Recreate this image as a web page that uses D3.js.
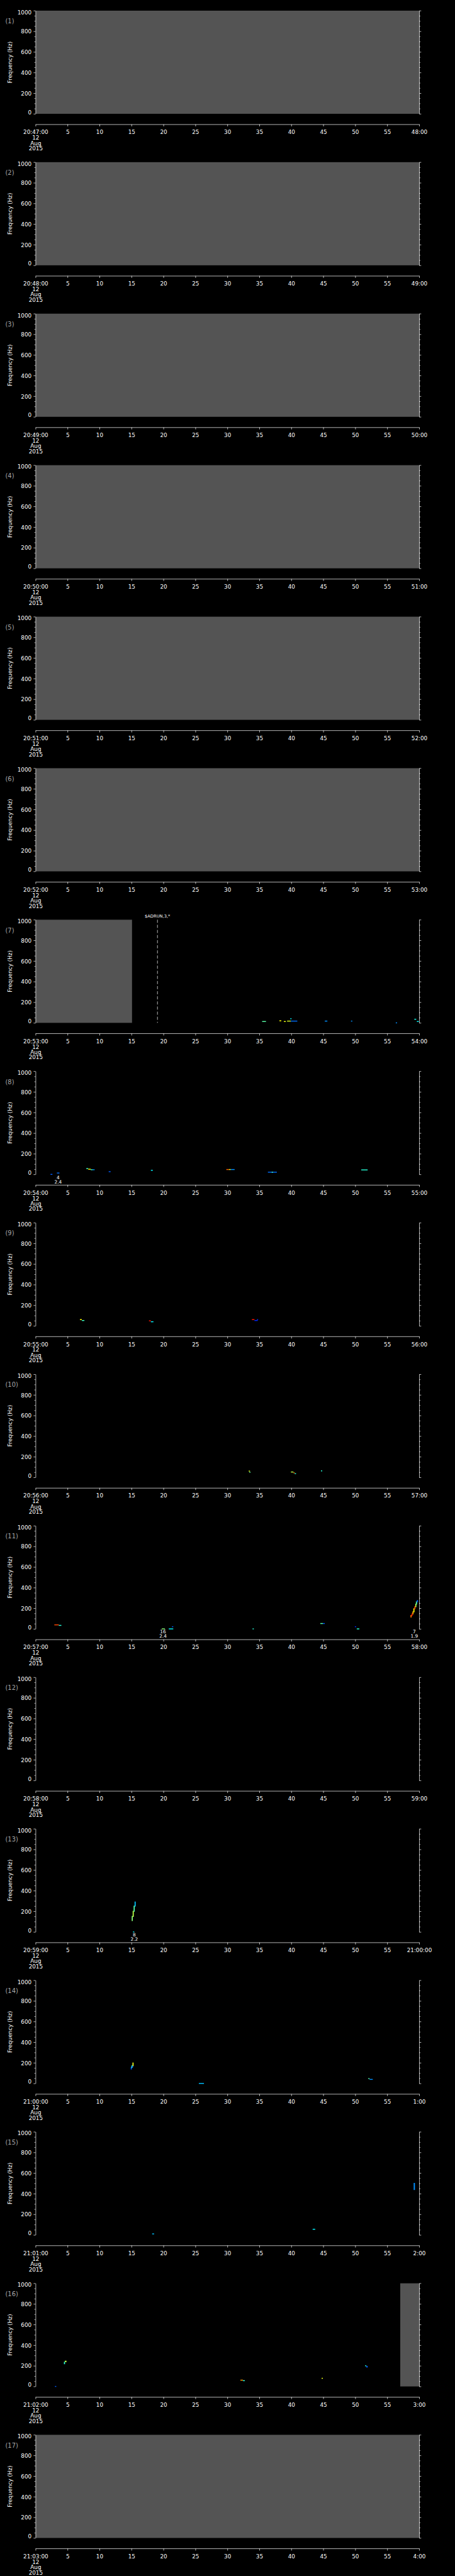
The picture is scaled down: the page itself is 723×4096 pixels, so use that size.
<!DOCTYPE html>
<html>
<head>
<meta charset="utf-8">
<script src="https://cdn.jsdelivr.net/npm/d3@7"></script>
<style>
  html, body { margin: 0; padding: 0; background: #000; }
  svg { display: block; }
  text { font-family: "DejaVu Sans", sans-serif; }
</style>
</head>
<body>
<svg id="chart" width="723" height="4096" viewBox="0 0 1024 5802"></svg>
<script>
// one spectrogram panel per minute, 12 Aug 2015
const startLabels = ['20:47:00', '20:48:00', '20:49:00', '20:50:00', '20:51:00', '20:52:00',
    '20:53:00', '20:54:00', '20:55:00', '20:56:00', '20:57:00', '20:58:00', '20:59:00',
    '21:00:00', '21:01:00', '21:02:00', '21:03:00'];
const endLabels = ['48:00', '49:00', '50:00', '51:00', '52:00', '53:00', '54:00', '55:00',
    '56:00', '57:00', '58:00', '59:00', '21:00:00', '1:00', '2:00', '3:00', '4:00'];
const dateLines = ['12', 'Aug', '2015'];

const secTicks = [0, 5, 10, 15, 20, 25, 30, 35, 40, 45, 50, 55, 60];
const freqTicks = [0, 200, 400, 600, 800, 1000];
const freqMinor = [50, 100, 150, 250, 300, 350, 450, 500, 550, 650, 700, 750, 850, 900, 950];

// no-data stretches: [panel, t0 (s), t1 (s)]
const gaps = [
    [1, 0, 60], [2, 0, 60], [3, 0, 60], [4, 0, 60], [5, 0, 60], [6, 0, 60],
    [7, 0, 15.05], [16, 57, 60], [17, 0, 60]
];

// detected power cells: [panel, t0, t1, f0 (Hz), f1 (Hz), level 0..1]
const segs = [
    [7, 35.4, 36.0, 13, 13, 0.45], [7, 38.1, 38.4, 20, 20, 0.62], [7, 38.8, 39.1, 13, 13, 0.6],
    [7, 39.3, 39.9, 17, 17, 0.58], [7, 39.9, 40.9, 17, 17, 0.22], [7, 39.8, 40.0, 40, 40, 0.35],
    [7, 45.2, 45.6, 17, 17, 0.25], [7, 49.3, 49.5, 17, 17, 0.25], [7, 56.3, 56.5, 0, 0, 0.25],
    [7, 59.2, 59.5, 35, 35, 0.38], [7, 59.6, 59.9, 13, 13, 0.36],

    [8, 2.3, 2.6, 0, 0, 0.2], [8, 3.3, 3.7, 13, 13, 0.22], [8, 7.9, 8.2, 56, 56, 0.42],
    [8, 8.2, 8.6, 50, 50, 0.62], [8, 8.6, 8.9, 45, 45, 0.42], [8, 8.9, 9.2, 45, 45, 0.25],
    [8, 11.4, 11.7, 26, 26, 0.2], [8, 18.0, 18.3, 39, 39, 0.35], [8, 29.8, 30.2, 47, 47, 0.78],
    [8, 30.2, 30.5, 47, 47, 0.6], [8, 30.5, 31.1, 47, 47, 0.25], [8, 36.3, 37.7, 21, 21, 0.22],
    [8, 36.9, 37.1, 21, 21, 0.42], [8, 50.9, 51.9, 43, 43, 0.4],

    [9, 6.9, 7.2, 61, 61, 0.62], [9, 7.2, 7.6, 52, 52, 0.42], [9, 17.7, 18.0, 49, 49, 0.85],
    [9, 18.0, 18.4, 40, 40, 0.35], [9, 33.8, 34.2, 61, 61, 0.85], [9, 34.2, 34.7, 52, 52, 0.15],
    [9, 34.6, 34.7, 61, 61, 0.15],

    [10, 33.3, 33.5, 61, 61, 0.6], [10, 33.4, 33.5, 49, 49, 0.45], [10, 39.9, 40.3, 52, 52, 0.55],
    [10, 40.3, 40.5, 44, 44, 0.75], [10, 40.5, 40.7, 36, 36, 0.4], [10, 44.6, 44.8, 63, 63, 0.4],

    [11, 2.9, 3.6, 39, 39, 0.8], [11, 3.6, 4.0, 34, 34, 0.4], [11, 19.7, 20.2, 0, 0, 0.5],
    [11, 20.8, 21.5, 0, 0, 0.36], [11, 21.3, 21.5, 21, 21, 0.2], [11, 33.9, 34.1, 0, 0, 0.4],
    [11, 44.5, 44.9, 52, 52, 0.45], [11, 44.9, 45.2, 52, 52, 0.2], [11, 49.9, 50.1, 21, 21, 0.15],
    [11, 50.2, 50.6, 0, 0, 0.4],
    [11, 58.6, 58.75, 115, 130, 0.75], [11, 58.75, 58.9, 130, 145, 0.85],
    [11, 58.9, 59.05, 145, 165, 0.7], [11, 59.05, 59.2, 165, 195, 0.62],
    [11, 59.2, 59.35, 195, 215, 0.8], [11, 59.35, 59.45, 215, 240, 0.55],
    [11, 59.45, 59.6, 240, 262, 0.45], [11, 59.6, 59.7, 262, 275, 0.2],

    [13, 15.0, 15.15, 110, 150, 0.5], [13, 15.15, 15.3, 150, 200, 0.55],
    [13, 15.3, 15.45, 200, 250, 0.45], [13, 15.45, 15.6, 250, 290, 0.3],
    [13, 15.2, 15.4, 0, 0, 0.35],

    [14, 14.85, 14.95, 140, 155, 0.2], [14, 14.95, 15.05, 155, 170, 0.4],
    [14, 15.05, 15.12, 160, 175, 0.2], [14, 15.12, 15.22, 172, 198, 0.6],
    [14, 25.5, 26.3, 0, 0, 0.3], [14, 52.0, 52.2, 47, 47, 0.45], [14, 52.2, 52.7, 39, 39, 0.25],

    [15, 18.2, 18.5, 10, 10, 0.3], [15, 43.3, 43.7, 55, 55, 0.35], [15, 59.1, 59.3, 440, 500, 0.25],

    [16, 3.0, 3.2, 0, 0, 0.2], [16, 4.4, 4.55, 220, 235, 0.4], [16, 4.55, 4.8, 240, 245, 0.55],
    [16, 32.0, 32.4, 61, 61, 0.72], [16, 32.4, 32.7, 56, 56, 0.4], [16, 44.7, 44.9, 79, 79, 0.6],
    [16, 51.5, 51.7, 200, 200, 0.4], [16, 51.7, 51.9, 188, 195, 0.2]
];

// event numbers below the panels: [panel, t, line1, line2]
const notes = [[8, 3.5, '4', '2.4'], [11, 19.9, '16', '2.4'], [11, 59.2, '7', '1.9'], [13, 15.4, '8', '2.2']];
// vertical markers: [panel, t, label]
const markers = [[7, 19.03, '$ADRUN,3,*']];

const TOP0 = 24;
const PITCH = 341.25;
const PH = 232.3;

const svg = d3.select('#chart');
svg.append('rect').attr('width', 1024).attr('height', 5802).attr('fill', '#000');

const x = d3.scaleLinear().domain([0, 60]).range([80.5, 944]);
const y = d3.scaleLinear().domain([0, 1000]).range([PH, 0]);
const jet = d3.scaleLinear()
    .domain([0, 0.11, 0.36, 0.62, 0.87, 1])
    .range(['#00008f', '#0000ff', '#00ffff', '#ffff00', '#ff0000', '#800000'])
    .clamp(true);

const styleAxis = (sel) => {
    sel.attr('font-family', null).attr('font-size', null);
    sel.selectAll('path, line').attr('stroke', '#fff').attr('stroke-width', 1);
    sel.selectAll('text').attr('fill', '#fff').style('font-size', '12.5px');
};

startLabels.forEach((lab, i) => {
    const p = i + 1;
    const g = svg.append('g').attr('transform', `translate(0,${TOP0 + PITCH * i})`);

    g.selectAll('rect.gap').data(gaps.filter(d => d[0] === p)).join('rect')
        .attr('class', 'gap')
        .attr('x', d => x(d[1]))
        .attr('width', d => x(d[2]) - x(d[1]))
        .attr('y', y(1000))
        .attr('height', y(0) - y(1000))
        .attr('fill', '#545454');

    g.selectAll('rect.seg').data(segs.filter(d => d[0] === p)).join('rect')
        .attr('class', 'seg')
        .attr('x', d => x(d[1]))
        .attr('width', d => Math.max(x(d[2]) - x(d[1]), 2.5))
        .attr('y', d => y(Math.max(d[3], d[4])) - 1)
        .attr('height', d => Math.abs(y(d[3]) - y(d[4])) + 2)
        .attr('fill', d => jet(d[5]));

    markers.filter(d => d[0] === p).forEach(m => {
        g.append('line')
            .attr('x1', x(m[1])).attr('x2', x(m[1]))
            .attr('y1', y(1000)).attr('y2', y(0))
            .attr('stroke', '#fff').attr('stroke-width', 1)
            .attr('stroke-dasharray', '7,4.5');
        g.append('text')
            .attr('x', x(m[1])).attr('y', -4.7)
            .attr('text-anchor', 'middle').attr('fill', '#fff')
            .style('font-size', '9.5px')
            .text(m[2]);
    });

    notes.filter(d => d[0] === p).forEach(n => {
        [n[2], n[3]].forEach((s, k) => {
            g.append('text')
                .attr('x', x(n[1])).attr('y', PH + 10.5 + 10 * k)
                .attr('text-anchor', 'middle').attr('fill', '#fff')
                .style('font-size', '10.5px')
                .text(s);
        });
    });

    // left frequency axis
    const left = g.append('g').attr('transform', `translate(${x(0) - 0.5},0)`)
        .call(d3.axisLeft(y).tickValues(freqTicks).tickFormat(d3.format('d'))
            .tickSize(4.5).tickPadding(4.5).tickSizeOuter(0))
        .call(styleAxis);
    left.selectAll('text')
        .attr('dy', null)
        .attr('y', d => d === 1000 ? 7.7 : d === 0 ? 0.4 : 4.6);
    g.append('g').attr('transform', `translate(${x(0) - 0.5},0)`)
        .call(d3.axisLeft(y).tickValues(freqMinor).tickSize(2.7).tickFormat(''))
        .call(styleAxis)
        .select('.domain').remove();

    // right frequency axis
    g.append('g').attr('transform', `translate(${x(60) - 0.5},0)`)
        .call(d3.axisRight(y).tickValues(freqTicks).tickSize(4.5).tickFormat('').tickSizeOuter(0))
        .call(styleAxis);
    g.append('g').attr('transform', `translate(${x(60) - 0.5},0)`)
        .call(d3.axisRight(y).tickValues(freqMinor).tickSize(2.7).tickFormat(''))
        .call(styleAxis)
        .select('.domain').remove();

    // time axis, set below the panel
    const axY = PH + 23.7;
    g.append('g').attr('transform', `translate(-0.5,${axY})`)
        .call(d3.axisBottom(x).tickValues(secTicks).tickSize(4.7).tickPadding(8.5).tickSizeOuter(0)
            .tickFormat((d, j) => j === 0 ? lab : j === secTicks.length - 1 ? endLabels[i] : d))
        .call(styleAxis);

    dateLines.forEach((s, k) => {
        g.append('text')
            .attr('x', x(0)).attr('y', axY + [34.7, 46.6, 58.6][k])
            .attr('text-anchor', 'middle').attr('fill', '#fff')
            .style('font-size', '12.5px')
            .text(s);
    });

    g.append('text')
        .attr('transform', `translate(27.3,${PH / 2}) rotate(-90)`)
        .attr('text-anchor', 'middle').attr('fill', '#fff')
        .style('font-size', '12.5px')
        .text('Frequency (Hz)');

    g.append('text')
        .attr('x', 12).attr('y', 28.7)
        .attr('fill', '#a8a8a8')
        .style('font-size', '14px')
        .text(`(${p})`);
});
</script>
</body>
</html>
